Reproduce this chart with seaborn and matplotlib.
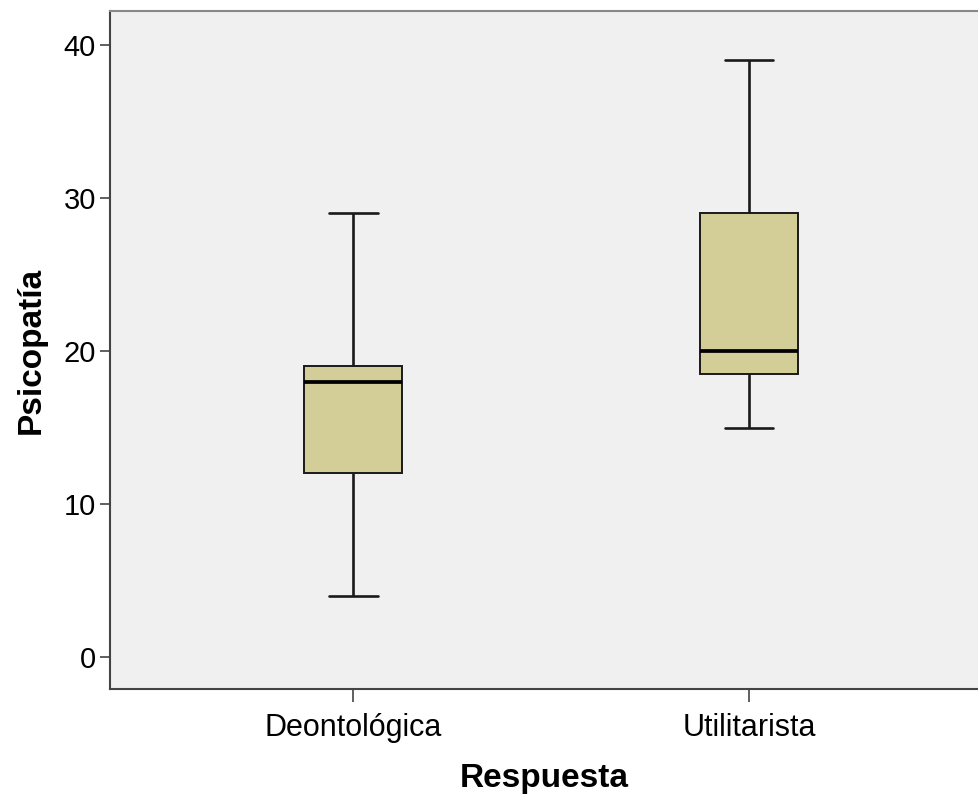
import matplotlib
matplotlib.use("Agg")
import matplotlib.pyplot as plt
import seaborn as sns
import pandas as pd

categories = ["Deontológica", "Utilitarista"]
deontologica = [4, 12, 18, 19, 29]       # min, Q1, median, Q3, max
utilitarista = [15, 18.5, 20, 29, 39]
y_ticks = [0, 10, 20, 30, 40]

df = pd.DataFrame({
    "Respuesta": [categories[0]] * len(deontologica) + [categories[1]] * len(utilitarista),
    "Psicopatía": deontologica + utilitarista,
})

sns.set_style("white")
plt.rcParams["font.family"] = ["Liberation Sans", "DejaVu Sans"]
plt.rcParams["text.color"] = "black"
plt.rcParams["axes.labelcolor"] = "black"
plt.rcParams["xtick.color"] = "black"
plt.rcParams["ytick.color"] = "black"

fig = plt.figure(figsize=(9.79, 7.94), dpi=100)
ax = fig.add_axes([110 / 979, 1 - 689 / 794, 1 - 110 / 979, (689 - 11) / 794])
ax.set_facecolor("#F0F0F0")

edge = "#1a1a1a"
sns.boxplot(data=df, x="Respuesta", y="Psicopatía", order=categories, ax=ax,
            color="#D3CE98", saturation=1, width=0.247, whis=1.5,
            linewidth=1.4, linecolor=edge,
            boxprops=dict(edgecolor=edge, linewidth=1.4),
            whiskerprops=dict(color=edge, linewidth=1.9),
            capprops=dict(color=edge, linewidth=1.9),
            medianprops=dict(color="black", linewidth=2.7),
            showfliers=False)

ax.set_xlim(-0.614, 1.581)
ax.set_ylim(-2.09, 42.22)
ax.set_yticks(y_ticks)
ax.set_yticklabels([str(v) for v in y_ticks])

for s in ["left", "bottom", "top"]:
    ax.spines[s].set_visible(True)
    ax.spines[s].set_color("#444444")
    ax.spines[s].set_linewidth(1.5)
ax.spines["top"].set_color("#888888")
ax.spines["right"].set_visible(False)

ax.tick_params(axis="y", direction="out", length=7, width=1.2, color="#444444",
               labelcolor="black", labelsize=21, pad=3, left=True)
ax.tick_params(axis="x", direction="out", length=9, width=1.2, color="#444444",
               labelcolor="black", labelsize=22, pad=8, bottom=True)

ax.set_xlabel("Respuesta", fontsize=24, fontweight="bold", labelpad=15, color="black")
ax.set_ylabel("Psicopatía", fontsize=24, fontweight="bold", labelpad=12, color="black")

fig.savefig("out.png", dpi=100)
